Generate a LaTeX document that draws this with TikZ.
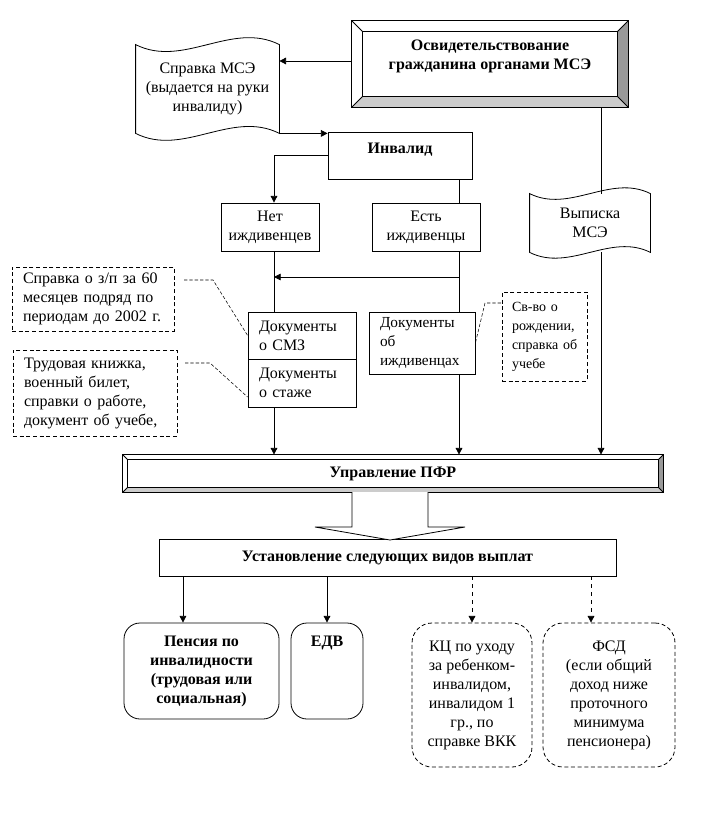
\documentclass[tikz,border=0pt]{standalone}
\usepackage{fontspec}
\setmainfont{Liberation Serif}
\usetikzlibrary{arrows.meta}

\definecolor{bevlight}{gray}{0.80}
\definecolor{bevdark}{gray}{0.60}

% wavy "document" outline round a node: node, width (px), wave
\newcommand{\tapeshape}[3]{%
  \draw (#1.north west) .. controls +(#2/3,#3) and +(-#2/3,-#3) .. (#1.north east)
        -- (#1.south east) .. controls +(-#2/3,-#3) and +(#2/3,#3) .. (#1.south west) -- cycle;}
% bevelled frame round a node: node, inset
\newcommand{\bevelframe}[2]{%
  \fill[bevlight] (#1.south west) -- (#1.south east) -- ([shift={(-#2,#2)}]#1.south east) -- ([shift={(#2,#2)}]#1.south west) -- cycle;
  \fill[bevdark] (#1.north east) -- (#1.south east) -- ([shift={(-#2,#2)}]#1.south east) -- ([shift={(-#2,-#2)}]#1.north east) -- cycle;
  \draw (#1.north west) rectangle (#1.south east);
  \draw ([shift={(#2,-#2)}]#1.north west) rectangle ([shift={(-#2,#2)}]#1.south east);
  \draw (#1.north west) -- ([shift={(#2,-#2)}]#1.north west);
  \draw (#1.north east) -- ([shift={(-#2,-#2)}]#1.north east);
  \draw (#1.south west) -- ([shift={(#2,#2)}]#1.south west);
  \draw (#1.south east) -- ([shift={(-#2,#2)}]#1.south east);}

\begin{document}
\begin{tikzpicture}[x=0.75pt,y=-0.75pt,line width=0.6pt,
        font=\fontsize{12}{14.25}\selectfont,
        box/.style={draw,rectangle,inner sep=0pt,align=center},
        docbox/.style={draw,rectangle,inner ysep=0pt,inner xsep=8.25pt,align=left},
        note/.style={draw,rectangle,dash pattern=on 3pt off 2pt,inner ysep=0pt,inner xsep=8.25pt,align=left},
        pay/.style={draw,rectangle,rounded corners=12pt,inner sep=0pt,align=center},
        arr/.style={-{Triangle[length=5pt,width=5pt]}},
        leader/.style={line width=0.4pt,dash pattern=on 2.5pt off 1.5pt},
        bold/.style={font=\fontsize{12}{14.25}\selectfont\bfseries}]
    \useasboundingbox (0,0) rectangle (700,816);

    % top
    \node[box,draw=none,minimum width=207pt,minimum height=64.5pt] (mse) at (490,64) {};
    \bevelframe{mse}{8.25pt}
    \node[bold,align=center] (msetxt) at (490,56) {Освидетельствование\\гражданина органами МСЭ};

    \node[box,draw=none,minimum width=107.25pt,minimum height=66pt] (sprav) at (207.5,89)
        {Справка МСЭ\\(выдается на руки\\инвалиду)};
    \tapeshape{sprav}{143}{24}

    \node[box,bold,minimum width=108pt,minimum height=35.25pt,text depth=11pt] (inv) at (400,155.5) {Инвалид};

    \node[box,minimum width=73.5pt,minimum height=36pt] (net) at (270,227) {Нет\\иждивенцев};
    \node[box,minimum width=81pt,minimum height=36pt] (est) at (426,227) {Есть\\иждивенцы};

    \node[box,draw=none,minimum width=90pt,minimum height=43.5pt] (vyp) at (590,223) {Выписка\\МСЭ};
    \tapeshape{vyp}{120}{20}

    % documents
    \node[docbox,text width=64.5pt,minimum height=35.25pt] (smz) at (302,335.5) {Документы\\о СМЗ};
    \node[docbox,text width=64.5pt,minimum height=36pt] (stazh) at (302,383) {Документы\\о стаже};
    \node[docbox,font=\fontsize{11.5}{14.25}\selectfont,text width=63pt,minimum height=46.5pt] (dep) at (422,343)
        {Документы\\об\\иждивенцах};

    \node[note,text width=105pt,minimum height=48pt] (note1) at (93,299)
        {Справка о з/п за 60\\месяцев подряд по\\периодам до 2002 г.};
    \node[note,text width=106.5pt,minimum height=64.5pt] (note2) at (95,393)
        {Трудовая книжка,\\военный билет,\\справки о работе,\\документ об учебе,};
    \node[note,font=\fontsize{10.5}{14.25}\selectfont,inner xsep=7.5pt,text width=48.75pt,minimum height=66.75pt] (note3) at (544.5,336.5)
        {Св-во о\\рождении,\\справка~об\\учебе};

    \coordinate (lft) at (274,277);
    \coordinate (rgt) at (459,277);
    \coordinate (lead1) at (184,280);
    \coordinate (lead2) at (185,363);
    \coordinate (lead3) at (501,303);

    % pension fund
    \node[box,bold,draw=none,minimum width=405pt,minimum height=27.75pt] (upfr) at (393,473.5) {};
    \bevelframe{upfr}{3.75pt}
    \node[bold] (upfrtxt) at (upfr.center) {Управление ПФР};

    \node[box,bold,minimum width=342.75pt,minimum height=27.75pt] (ust) at (387.5,557.5)
        {Установление следующих видов выплат};
    \draw[fill=white] (352,492) -- (352,527) -- (315,527) -- (390,540) -- (465,527) -- (428,527) -- (428,492);

    \begin{scope}[every node/.style={pay,minimum height=72pt}]
        \node[bold,minimum width=116.25pt] (pens) at (201.5,671)
            {Пенсия по\\инвалидности\\(трудовая или\\социальная)};
        \node[minimum width=54pt] (edv) at (327,671) {};
        \node[dash pattern=on 3pt off 2pt,rounded corners=15pt,minimum width=90pt,minimum height=108pt] (kc) at (472,695)
            {КЦ по уходу\\за ребенком-\\инвалидом,\\инвалидом 1\\гр., по\\справке ВКК};
        \node[dash pattern=on 3pt off 2pt,rounded corners=15pt,minimum width=99pt,minimum height=108pt] (fsd) at (609,695)
            {ФСД\\(если общий\\доход ниже\\проточного\\минимума\\пенсионера)};
    \end{scope}
    \node[bold] (edvtxt) at (327,643) {ЕДВ};

    % connectors
    \draw[arr] ([yshift=2.25pt]mse.west) -- ([yshift=2.25pt]mse.west -| sprav.east);
    \draw[arr] (sprav.south east) -- (sprav.south east -| inv.west);
    \draw[arr] (inv.west) -| (net.north -| lft);
    \draw (inv.south -| rgt) -- (est.north -| rgt);
    \draw (net.south -| lft) -- (smz.north -| lft);
    \draw (est.south -| rgt) -- (dep.north -| rgt);
    \path[arr] (rgt) edge (lft);
    \draw[arr] (stazh.south -| lft) -- (upfr.north -| lft);
    \draw[arr] (dep.south -| rgt) -- (upfr.north -| rgt);

    \draw ([xshift=8.25pt]vyp.north |- mse.south) -- ([xshift=8.25pt]vyp.north);
    \draw[arr] ([xshift=8.25pt]vyp.south) -- ([xshift=8.25pt]vyp.south |- upfr.north);

    \draw[leader] (lead1) -- +(29,0) -- (smz.west);
    \draw[leader] (lead2) -- +(25,0) -- ([yshift=-10.5pt]stazh.west);
    \draw[leader] (lead3) -- +(-16,0) -- (dep.east);

    \draw[arr] ([xshift=-13.9pt]pens.north |- ust.south) -- ([xshift=-13.9pt]pens.north);
    \draw[arr] (edv.north |- ust.south) -- (edv.north);
    \draw[arr,dashed] (kc.north |- ust.south) -- (kc.north);
    \draw[arr,dashed] ([xshift=-13.5pt]fsd.north |- ust.south) -- ([xshift=-13.5pt]fsd.north);
\end{tikzpicture}
\end{document}
